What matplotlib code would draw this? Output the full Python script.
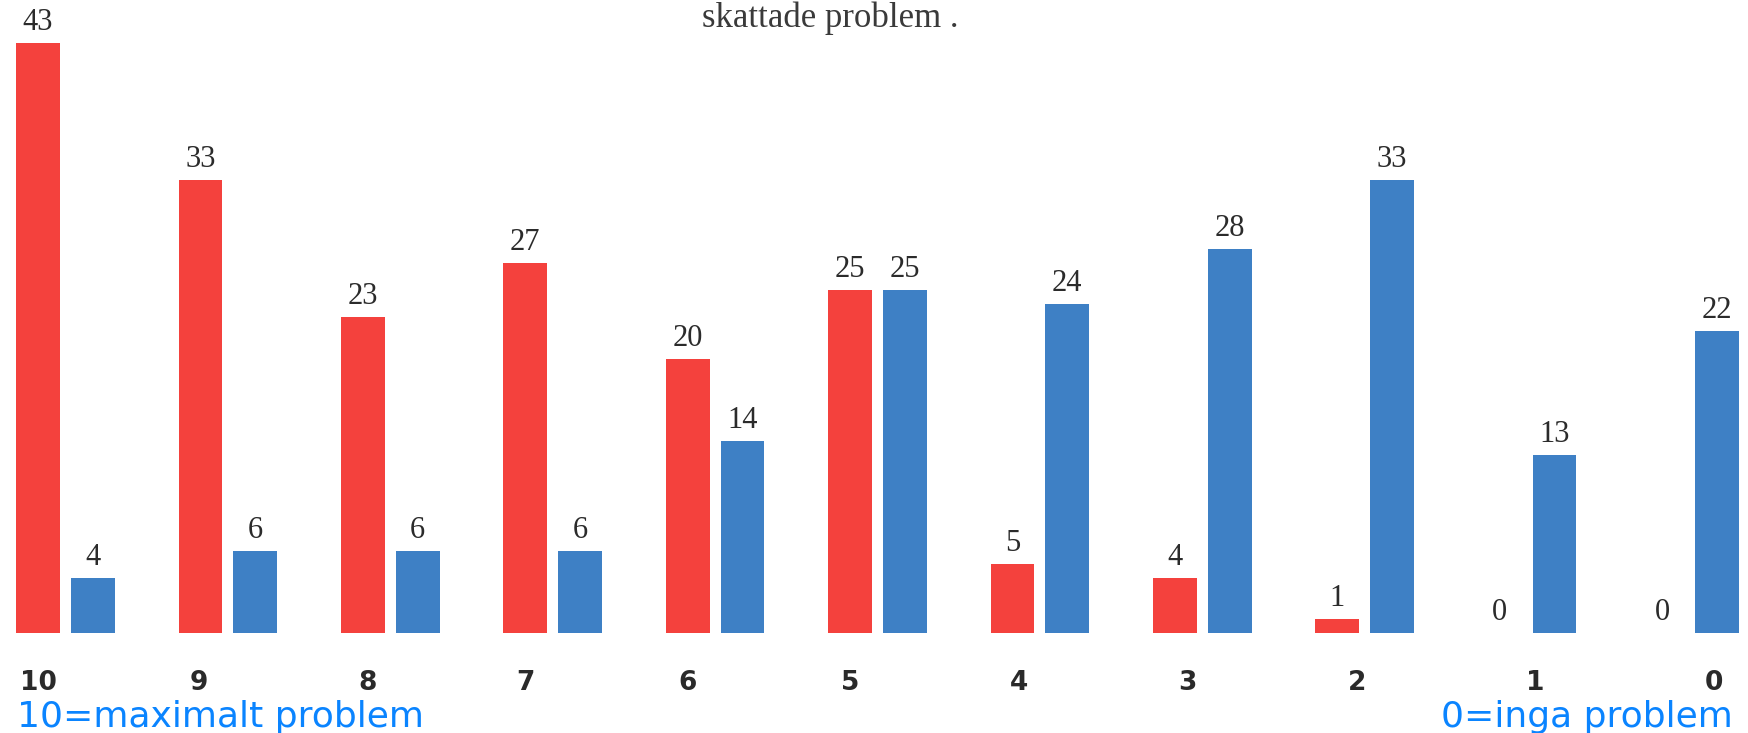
import matplotlib
matplotlib.use("Agg")
import matplotlib.pyplot as plt
import numpy as np

# ---- data ----
categories = ["10", "9", "8", "7", "6", "5", "4", "3", "2", "1", "0"]
red_values = [43, 33, 23, 27, 20, 25, 5, 4, 1, 0, 0]
blue_values = [4, 6, 6, 6, 14, 25, 24, 28, 33, 13, 22]
title_text = "skattade problem ."
left_note = "10=maximalt problem"
right_note = "0=inga problem"

# ---- layout / style ----
W, H, DPI = 1749, 733, 100
RED = "#f4413d"
BLUE = "#3e80c5"
NOTE_BLUE = "#0a84ff"
bar_w = 0.27
off = 0.169
# tick label drift relative to red bar centre (fraction of group spacing)
tick_shift = [0, -0.01, 0.03, 0, 0, 0, 0.04, 0.08, 0.12, 0.22, 0.32]

fig = plt.figure(figsize=(W / DPI, H / DPI), dpi=DPI)
fig.patch.set_facecolor("white")
ax = fig.add_axes([0, 100 / H, 1, 633 / H])

x = np.arange(len(categories))
ax.bar(x - off, red_values, width=bar_w, color=RED, linewidth=0)
ax.bar(x + off, blue_values, width=bar_w, color=BLUE, linewidth=0)

ax.set_xlim(-65.5 / 162.4, (W - 65.5) / 162.4)
ax.set_ylim(0, 633 / 13.72)

for xs, vals in ((x - off, red_values), (x + off, blue_values)):
    for xi, v in zip(xs, vals):
        ax.annotate(str(v), (xi, v), xytext=(0, 9.4), textcoords="offset points",
                    ha="center", va="baseline", fontsize=22,
                    family="Liberation Serif", color="#2b2b2b")

ax.set_xticks(x - off + np.array(tick_shift), categories)
ax.tick_params(axis="x", length=0, pad=27)
for lbl in ax.get_xticklabels():
    lbl.set_fontsize(19)
    lbl.set_fontweight("bold")
    lbl.set_family("DejaVu Sans")
    lbl.set_color("#2a2a2a")
ax.set_yticks([])
for s in ax.spines.values():
    s.set_visible(False)

fig.text(830 / W, 706 / H, title_text, ha="center", va="baseline",
         fontsize=25, family="Liberation Serif", color="#3a3a3a")
fig.text(17 / W, 6 / H, left_note, ha="left", va="baseline",
         fontsize=26, family="DejaVu Sans", color=NOTE_BLUE)
fig.text(1733 / W, 6 / H, right_note, ha="right", va="baseline",
         fontsize=26, family="DejaVu Sans", color=NOTE_BLUE)

fig.savefig("out.png", dpi=DPI, facecolor="white")
